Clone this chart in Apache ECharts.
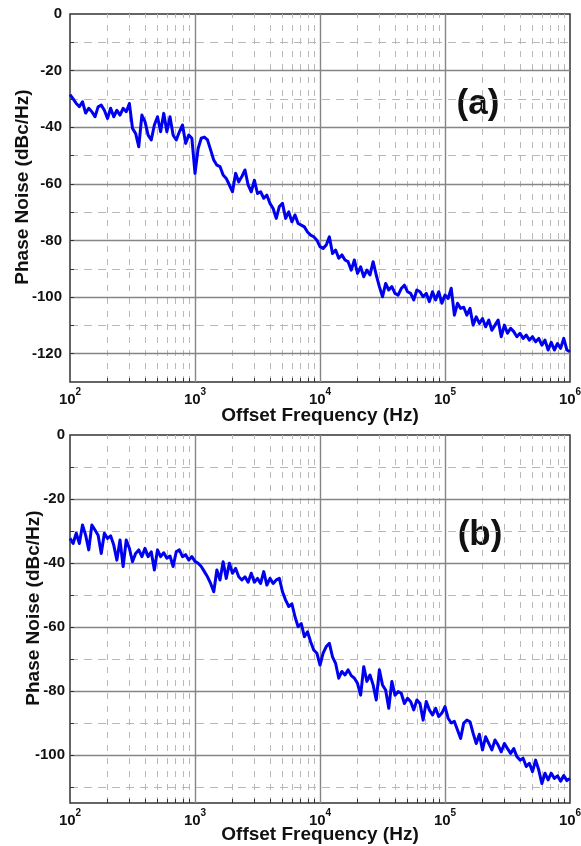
<!DOCTYPE html>
<html><head><meta charset="utf-8">
<script src="https://cdn.jsdelivr.net/npm/echarts@6/dist/echarts.min.js"></script>
<style>html,body{margin:0;padding:0;background:#fff}#c{width:581px;height:846px}</style>
</head><body><div id="c"></div>
<script>
// ---- data (log10 of offset frequency in Hz, phase noise in dBc/Hz) ----
const logFreq = [
 2,2.025,2.05,2.075,2.1,2.125,2.15,2.175,2.2,2.225,2.25,2.275,2.3,2.325,2.35,2.375,2.4,2.425,2.45,2.475,
 2.5,2.525,2.55,2.575,2.6,2.625,2.65,2.675,2.7,2.725,2.75,2.775,2.8,2.825,2.85,2.875,2.9,2.925,2.95,2.975,
 3,3.025,3.05,3.075,3.1,3.125,3.15,3.175,3.2,3.225,3.25,3.275,3.3,3.325,3.35,3.375,3.4,3.425,3.45,3.475,
 3.5,3.525,3.55,3.575,3.6,3.625,3.65,3.675,3.7,3.725,3.75,3.775,3.8,3.825,3.85,3.875,3.9,3.925,3.95,3.975,
 4,4.025,4.05,4.075,4.1,4.125,4.15,4.175,4.2,4.225,4.25,4.275,4.3,4.325,4.35,4.375,4.4,4.425,4.45,4.475,
 4.5,4.525,4.55,4.575,4.6,4.625,4.65,4.675,4.7,4.725,4.75,4.775,4.8,4.825,4.85,4.875,4.9,4.925,4.95,4.975,
 5,5.025,5.05,5.075,5.1,5.125,5.15,5.175,5.2,5.225,5.25,5.275,5.3,5.325,5.35,5.375,5.4,5.425,5.45,5.475,
 5.5,5.525,5.55,5.575,5.6,5.625,5.65,5.675,5.7,5.725,5.75,5.775,5.8,5.825,5.85,5.875,5.9,5.925,5.95,5.975,
 6
];
const noiseA = [
 -28.5,-30,-31.6,-32.7,-31,-35,-33.3,-34.5,-36.3,-32.8,
 -32.2,-34,-36.9,-33.3,-36.3,-34,-35.7,-33.3,-34.5,-31.6,
 -40.4,-42.2,-46.9,-35.7,-38,-42.8,-44.5,-39.2,-36.3,-41.6,
 -35.1,-41.6,-36.3,-42.8,-44.5,-41.6,-39.2,-45.7,-42.8,-43.9,
 -56.3,-47.5,-43.9,-43.5,-44.5,-48,-51.6,-53.4,-53.9,-56.9,
 -58.1,-60.4,-62.8,-56.3,-59.3,-57.4,-55.1,-60.4,-62.8,-58.7,
 -63.4,-62.8,-65.1,-64,-66.9,-68.7,-72.2,-68,-66.9,-72.2,
 -69.9,-73.4,-71,-74,-74.6,-75.2,-77,-78.1,-78.7,-79.9,
 -82.2,-82.8,-81.6,-78.7,-84.6,-83.4,-86.3,-85.1,-86.9,-87.5,
 -90.5,-86.9,-91.6,-89.3,-92.8,-90.5,-92.2,-87.5,-92.2,-96.3,
 -99.9,-95.2,-97.5,-96.3,-98.7,-99.3,-97,-95.8,-98.1,-98.7,
 -101,-97.5,-98.1,-99.9,-98.7,-101.6,-98.1,-101,-98.1,-102.2,
 -99.3,-100.5,-96.9,-106.4,-102.2,-104,-103.6,-106.4,-104,-109.9,
 -107,-109.3,-107.6,-110.5,-108.1,-111.7,-109.9,-108.1,-114,-109.9,
 -112.8,-111,-112.2,-114,-112.8,-114.6,-113.4,-115.2,-114,-115.8,
 -114.6,-117,-115.2,-118.7,-116,-118.7,-116.4,-118.1,-114.6,-118.7,
 -119.3
];
const noiseB = [
 -32.3,-33.9,-30.7,-33.9,-28.1,-31.3,-35.9,-28.1,-29.7,-31.3,
 -37,-30.7,-32.3,-31.5,-34.4,-39.1,-32.8,-41.1,-32.8,-35.4,
 -39.6,-37,-35.9,-38,-35.4,-38,-36.5,-42.2,-35.9,-38,
 -36.8,-38.5,-37.8,-41.1,-36.5,-35.9,-38,-37.4,-39.1,-38,
 -39.5,-40.1,-41.1,-42.7,-44.3,-46.4,-49,-42.2,-45.3,-39.6,
 -44.8,-40.1,-43.2,-41.7,-44.3,-45.3,-44.3,-46,-43.2,-46,
 -44.8,-46.4,-42.7,-46.9,-44.8,-46.4,-45.3,-44.8,-49,-51.6,
 -53.6,-52.8,-56.8,-59.9,-58.9,-63,-61.5,-64.6,-67.2,-68.2,
 -71.9,-68.2,-66.1,-65.1,-69.3,-71.4,-76,-73.9,-75,-73.4,
 -75.2,-76,-77.6,-81.3,-72.4,-77,-75,-78.1,-82.8,-73.4,
 -78.1,-79.7,-85.4,-77,-81.3,-80.2,-80.7,-83.9,-82.3,-83.3,
 -85.9,-82.8,-83.9,-89.1,-83.3,-85.9,-87.5,-85.4,-88,-86.9,
 -84.9,-88.5,-90,-89.5,-92.2,-94.8,-90,-89.1,-89.6,-93.2,
 -96.4,-93.5,-98.4,-94.3,-96.4,-98.4,-95.3,-96.9,-99,-96.4,
 -98,-99.5,-98,-100.5,-101.6,-101,-103.6,-102.6,-105.2,-101.6,
 -104.7,-108.9,-105.7,-107.8,-105.7,-107.3,-106.5,-108.2,-106.4,-108,
 -107.3
];
const xDecadeExps = [2,3,4,5,6];
const yTicksA = [0,-20,-40,-60,-80,-100,-120];
const yTicksB = [0,-20,-40,-60,-80,-100];
const yMinorA = [-10,-30,-50,-70,-90,-110];
const yMinorB = [-10,-30,-50,-70,-90,-110];
const yRangeA = [-130, 0];
const yRangeB = [-115, 0];
const panelLabels = ['(a)', '(b)'];
const xTitle = 'Offset Frequency (Hz)';
const yTitle = 'Phase Noise (dBc/Hz)';

// ---- styling / layout ----
const FONT = '"Liberation Sans", Arial, Helvetica, sans-serif';
const PLOT_H = 368, PLOT_W = 500;
const grids = [
  {left:70, top:14, width:PLOT_W, height:PLOT_H},
  {left:70, top:435, width:PLOT_W, height:PLOT_H}
];
const MAJOR = {color:'#858585', width:1.4, type:'solid'};
const MINOR_H = {color:'#b8b8b8', width:1, type:[8,6]};
const MINOR_V = {color:'#b8b8b8', width:1, type:[6,7]};
const TICK = {color:'#333', width:1, type:'solid'};

function gridLines(yRange, yMajors, yMinors) {
  const items = [];
  const xmin = Math.pow(10, xDecadeExps[0]);
  const tickY = 4 * (yRange[1]-yRange[0]) / PLOT_H;
  const tickXf = Math.pow(10, 4 * (xDecadeExps.length-1) / PLOT_W);
  for (let d = 0; d < xDecadeExps.length - 1; d++) {
    const base = Math.pow(10, xDecadeExps[d]);
    if (d > 0) items.push({xAxis: base, lineStyle: MAJOR});
    for (let k = 2; k <= 9; k++) {
      items.push({xAxis: base * k, lineStyle: MINOR_V});
      items.push([{coord:[base*k, yRange[0]], lineStyle: TICK}, {coord:[base*k, yRange[0]+tickY]}]);
    }
  }
  yMajors.forEach(v => { if (v > yRange[0] && v < yRange[1]) items.push({yAxis: v, lineStyle: MAJOR}); });
  yMinors.forEach(v => { if (v > yRange[0] && v < yRange[1]) items.push({yAxis: v, lineStyle: MINOR_H}); });
  yMajors.concat(yMinors).forEach(v => {
    if (v > yRange[0] && v < yRange[1]) items.push([{coord:[xmin, v], lineStyle: TICK}, {coord:[xmin*tickXf, v]}]);
  });
  return items;
}

function xAxisCfg(gi, nameGap) {
  return {
    type:'log', logBase:10, gridIndex:gi,
    min: Math.pow(10, xDecadeExps[0]), max: Math.pow(10, xDecadeExps[xDecadeExps.length-1]),
    axisLine:{show:false}, axisTick:{show:false}, splitLine:{show:false},
    axisLabel:{
      margin:5, showMinLabel:true, showMaxLabel:true, hideOverlap:false,
      formatter: v => { const e = Math.round(Math.log10(v)); return xDecadeExps.includes(e) ? '{b|10}{s|' + e + '}' : ''; },
      rich:{
        b:{fontSize:15, fontWeight:'bold', fontFamily:FONT, color:'#111', lineHeight:20, verticalAlign:'bottom'},
        s:{fontSize:10, fontWeight:'bold', fontFamily:FONT, color:'#111', lineHeight:12, verticalAlign:'top'}
      }
    },
    name: xTitle, nameLocation:'middle', nameGap: nameGap, nameMoveOverlap:false,
    nameTextStyle:{fontSize:19, fontWeight:'bold', fontFamily:FONT, color:'#111'}
  };
}
function yAxisCfg(gi, range, interval, ticks, nameGap, margin) {
  return {
    type:'value', gridIndex:gi, min:range[0], max:range[1], interval:interval,
    axisLine:{show:false}, axisTick:{show:false}, splitLine:{show:false},
    axisLabel:{margin:margin, fontSize:15, fontWeight:'bold', fontFamily:FONT, color:'#111',
      formatter: v => ticks.includes(v) ? String(v) : ''},
    name: yTitle, nameLocation:'middle', nameRotate:90, nameGap:nameGap, nameMoveOverlap:false,
    nameTextStyle:{fontSize:19, fontWeight:'bold', fontFamily:FONT, color:'#111', padding:[0,0,0,22]}
  };
}

const dataA = logFreq.map((e,i) => [Math.pow(10, e), noiseA[i]]);
const dataB = logFreq.map((e,i) => [Math.pow(10, e), noiseB[i]]);

function gridSeries(gi, yRange, yMaj, yMin) {
  return {type:'line', xAxisIndex:gi, yAxisIndex:gi, data:[], z:1, silent:true, animation:false,
    markLine:{silent:true, animation:false, symbol:['none','none'], label:{show:false}, data: gridLines(yRange, yMaj, yMin)}};
}
function dataSeries(gi, d) {
  return {type:'line', xAxisIndex:gi, yAxisIndex:gi, data:d, z:5, showSymbol:false, symbol:'none',
    animation:false, lineStyle:{color:'#0000f0', width:3, join:'round'}};
}

const chart = echarts.init(document.getElementById('c'), null, {renderer:'canvas'});
chart.setOption({
  animation:false,
  backgroundColor:'#fff',
  grid: grids.map(g => Object.assign({show:true, borderColor:'#333', borderWidth:1.5, backgroundColor:'transparent',
    containLabel:false, outerBoundsMode:'none'}, g)),
  xAxis:[xAxisCfg(0, 24), xAxisCfg(1, 22)],
  yAxis:[yAxisCfg(0, yRangeA, 10, yTicksA, 38, 8), yAxisCfg(1, yRangeB, 5, yTicksB, 27, 5)],
  series:[
    gridSeries(0, yRangeA, yTicksA, yMinorA),
    gridSeries(1, yRangeB, yTicksB, yMinorB),
    dataSeries(0, dataA),
    dataSeries(1, dataB)
  ],
  graphic:[
    {type:'rect', shape:{x:446, y:66, width:64, height:58}, style:{fill:'#fff'}, z:3},
    {type:'text', x:478, y:104, z:4, style:{text:panelLabels[0], font:'bold 35px ' + FONT, fill:'#111', align:'center', verticalAlign:'middle'}},
    {type:'rect', shape:{x:446, y:508, width:66, height:50}, style:{fill:'#fff'}, z:3},
    {type:'text', x:480, y:535, z:4, style:{text:panelLabels[1], font:'bold 35px ' + FONT, fill:'#111', align:'center', verticalAlign:'middle'}}
  ]
});
</script>
</body></html>
